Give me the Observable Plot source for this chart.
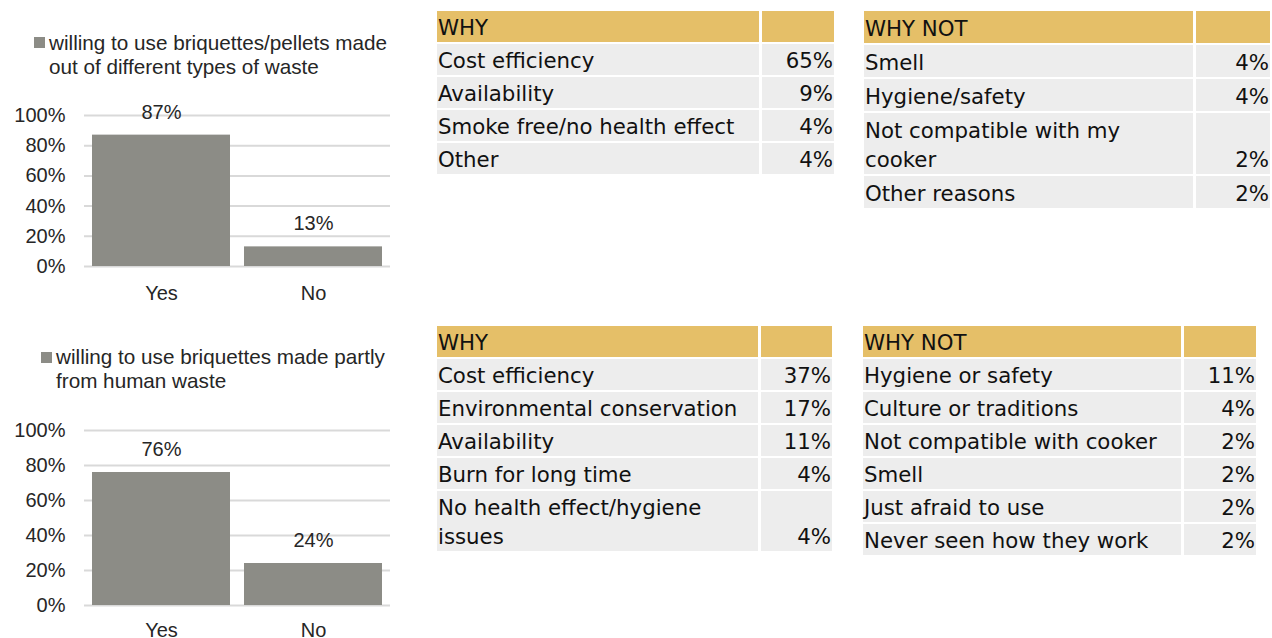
<!DOCTYPE html>
<html>
<head>
<meta charset="utf-8">
<script src="https://cdn.jsdelivr.net/npm/d3@7"></script>
<script src="https://cdn.jsdelivr.net/npm/@observablehq/plot@0.6"></script>
<style>
  html, body { margin: 0; padding: 0; background: #fff; }
  body { width: 1272px; height: 638px; position: relative; overflow: hidden; }
  .chart { position: absolute; left: 0; }
  .legend { position: absolute; font-family: "Liberation Sans", Arial, sans-serif; font-size: 20.7px; line-height: 24px; color: #262626; white-space: nowrap; }
  .legend .sw { position: absolute; width: 11px; height: 11px; background: #8c8c86; }
  table.reasons { position: absolute; border-collapse: separate; border-spacing: 3px 2px; table-layout: fixed;
    font-family: "DejaVu Sans", Verdana, sans-serif; font-size: 21.3px; color: #111; }
  table.reasons td { padding: 2px 1px 0 1px; line-height: 29px; vertical-align: top; background: #ededed; box-sizing: border-box; }
  table.reasons td span { position: relative; top: 0px; }
  table.reasons td.v { text-align: right; vertical-align: bottom; padding-right: 1px; }
  table.reasons tr.h td { background: #e5bf68; }
  table.tall td { padding-top: 3px; }
</style>
</head>
<body>
<div id="root"></div>
<script>
// ---- data ----
const categories = ["Yes", "No"];
const wasteWilling = [0.87, 0.13];
const humanWasteWilling = [0.76, 0.24];
const yTicks = [0, 0.2, 0.4, 0.6, 0.8, 1.0];
const legend1 = ["willing to use briquettes/pellets made", "out of different types of waste"];
const legend2 = ["willing to use briquettes made partly", "from human waste"];

const why1Labels = ["Cost efficiency", "Availability", "Smoke free/no health effect", "Other"];
const why1Values = [65, 9, 4, 4];
const whyNot1Labels = ["Smell", "Hygiene/safety", "Not compatible with my cooker", "Other reasons"];
const whyNot1Values = [4, 4, 2, 2];
const why2Labels = ["Cost efficiency", "Environmental conservation", "Availability", "Burn for long time", "No health effect/hygiene issues"];
const why2Values = [37, 17, 11, 4, 4];
const whyNot2Labels = ["Hygiene or safety", "Culture or traditions", "Not compatible with cooker", "Smell", "Just afraid to use", "Never seen how they work"];
const whyNot2Values = [11, 4, 2, 2, 2, 2];

const root = document.getElementById("root");

function barChart(values, top) {
  const data = categories.map((c, i) => ({cat: c, value: values[i]}));
  const plot = Plot.plot({
    width: 400,
    height: top.h,
    marginLeft: 84, marginRight: 10, marginTop: 20, marginBottom: 40,
    style: {fontFamily: "'Liberation Sans', Arial, sans-serif", fontSize: "20px", color: "#262626", background: "transparent", overflow: "visible"},
    x: {domain: categories, paddingInner: 0.0915, paddingOuter: 0.046, label: null},
    y: {domain: [0, 1], label: null},
    marks: [
      Plot.ruleY(yTicks, {stroke: "#d9d9d9", strokeWidth: 2}),
      Plot.barY(data, {x: "cat", y: "value", fill: "#8c8c86"}),
      Plot.text(data, {x: "cat", y: "value", text: d => Math.round(d.value * 100) + "%", dy: -23, fill: "#262626", fontSize: 20}),
      Plot.axisY({ticks: yTicks, tickFormat: d => Math.round(d * 100) + "%", tickSize: 0, tickPadding: 19, fontSize: 20, label: null}),
      Plot.axisX({tickSize: 0, tickPadding: top.xPad, fontSize: 20, label: null})
    ]
  });
  const wrap = document.createElement("div");
  wrap.className = "chart";
  wrap.style.top = top.y + "px";
  wrap.appendChild(plot);
  root.appendChild(wrap);
}

function legend(lines, x, y, sx, sy) {
  const d = document.createElement("div");
  d.className = "legend";
  d.style.left = x + "px";
  d.style.top = y + "px";
  d.innerHTML = lines.join("<br>");
  root.appendChild(d);
  const s = document.createElement("div");
  s.className = "legend";
  s.innerHTML = '<div class="sw" style="left:0;top:0"></div>';
  s.style.left = sx + "px";
  s.style.top = sy + "px";
  root.appendChild(s);
}

function table(title, labels, values, x, y, w1, w2, tall) {
  const t = document.createElement("table");
  t.className = "reasons" + (tall ? " tall" : "");
  t.style.left = (x - 3) + "px";
  t.style.top = (y - 2) + "px";
  t.style.width = (w1 + w2 + 9) + "px";
  let html = `<colgroup><col style="width:${w1}px"><col style="width:${w2}px"></colgroup>`;
  html += `<tr class="h"><td><span>${title}</span></td><td class="v"></td></tr>`;
  labels.forEach((l, i) => {
    html += `<tr><td><span>${l}</span></td><td class="v"><span>${values[i]}%</span></td></tr>`;
  });
  t.innerHTML = html;
  root.appendChild(t);
}

barChart(wasteWilling, {y: 95, h: 211, xPad: 19});
barChart(humanWasteWilling, {y: 410, h: 235, xPad: 17});
legend(legend1, 49, 31, 34, 37);
legend(legend2, 56, 345, 41, 352);

table("WHY", why1Labels, why1Values, 437, 11, 322, 72, false);
table("WHY NOT", whyNot1Labels, whyNot1Values, 864, 11, 329, 74, true);
table("WHY", why2Labels, why2Values, 437, 326, 321, 71, false);
table("WHY NOT", whyNot2Labels, whyNot2Values, 863, 326, 318, 72, false);
</script>
</body>
</html>
